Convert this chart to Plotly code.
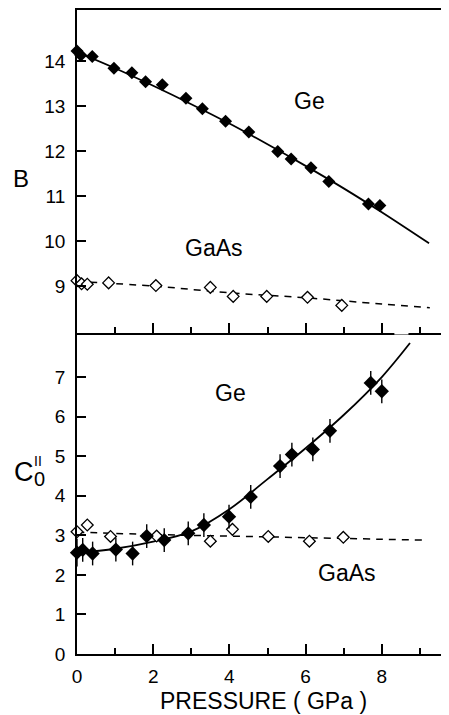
import plotly.graph_objects as go

# ---------------- data ----------------
# Top panel: B vs pressure
ge_B_x = [0.0, 0.1, 0.4, 0.97, 1.44, 1.8, 2.24, 2.86, 3.29, 3.9, 4.51, 5.27, 5.62, 6.14, 6.61, 7.65, 7.95]
ge_B_y = [14.22, 14.13, 14.1, 13.84, 13.74, 13.54, 13.47, 13.17, 12.94, 12.66, 12.42, 11.99, 11.82, 11.63, 11.32, 10.82, 10.79]
ge_B_fit_x = [0, 1, 2, 3, 4, 5, 6, 7, 8, 9.24]
ge_B_fit_y = [14.2, 13.84, 13.45, 13.04, 12.61, 12.15, 11.67, 11.17, 10.64, 9.95]

gaas_B_x = [0.0, 0.12, 0.27, 0.83, 2.07, 3.5, 4.1, 4.98, 6.05, 6.95]
gaas_B_y = [9.12, 9.05, 9.04, 9.07, 9.01, 8.97, 8.77, 8.77, 8.75, 8.57]
gaas_B_fit_x = [0, 2, 4, 6, 8, 9.26]
gaas_B_fit_y = [9.1, 9.0, 8.85, 8.74, 8.6, 8.52]

# Bottom panel: C0'' vs pressure
ge_C_x = [0.0, 0.15, 0.41, 1.02, 1.46, 1.83, 2.29, 2.92, 3.33, 3.99, 4.56, 5.33, 5.64, 6.19, 6.64, 7.71, 8.0]
ge_C_y = [2.56, 2.63, 2.54, 2.64, 2.54, 2.98, 2.88, 3.05, 3.26, 3.47, 3.97, 4.75, 5.04, 5.17, 5.64, 6.85, 6.64]
ge_C_err = [0.35, 0.3, 0.3, 0.3, 0.3, 0.3, 0.3, 0.3, 0.3, 0.3, 0.3, 0.3, 0.3, 0.3, 0.3, 0.3, 0.3]
ge_C_fit_x = [0, 1, 2, 3, 4, 5, 6, 7, 8, 8.74]
ge_C_fit_y = [2.56, 2.66, 2.84, 3.1, 3.66, 4.42, 5.2, 6.04, 7.0, 7.86]

gaas_C_x = [0.0, 0.27, 0.88, 2.09, 3.5, 4.08, 5.02, 6.1, 6.99]
gaas_C_y = [3.09, 3.26, 2.97, 2.98, 2.85, 3.15, 2.97, 2.85, 2.95]
gaas_C_fit_x = [0, 2, 4, 6, 8, 9.09]
gaas_C_fit_y = [3.08, 3.02, 2.98, 2.94, 2.9, 2.88]

x_ticks = [0, 2, 4, 6, 8]
B_ticks = [9, 10, 11, 12, 13, 14]
C_ticks = [0, 1, 2, 3, 4, 5, 6, 7]

# ---------------- style ----------------
FONT = "Liberation Sans"
K = "black"
X_RANGE = [0, 9.764]
B_RANGE = [7.956, 15.133]
C_RANGE = [0, 8.112]
SPLIT = 0.4984

fig = go.Figure()

# top panel (x2, y2)
fig.add_trace(go.Scatter(x=ge_B_fit_x, y=ge_B_fit_y, mode="lines", xaxis="x2", yaxis="y2",
                         line=dict(color=K, width=1.8, shape="spline", smoothing=1)))
fig.add_trace(go.Scatter(x=gaas_B_fit_x, y=gaas_B_fit_y, mode="lines", xaxis="x2", yaxis="y2",
                         line=dict(color=K, width=1.5, dash="7px,6px", shape="spline", smoothing=1)))
fig.add_trace(go.Scatter(x=ge_B_x, y=ge_B_y, mode="markers", xaxis="x2", yaxis="y2", cliponaxis=False,
                         marker=dict(symbol="diamond", size=10, color=K, line=dict(width=0))))
fig.add_trace(go.Scatter(x=gaas_B_x, y=gaas_B_y, mode="markers", xaxis="x2", yaxis="y2", cliponaxis=False,
                         marker=dict(symbol="diamond", size=9, color="white", line=dict(color=K, width=1.3))))

# bottom panel (x, y)
fig.add_trace(go.Scatter(x=ge_C_fit_x, y=ge_C_fit_y, mode="lines", xaxis="x", yaxis="y",
                         line=dict(color=K, width=1.8, shape="spline", smoothing=1)))
fig.add_trace(go.Scatter(x=gaas_C_fit_x, y=gaas_C_fit_y, mode="lines", xaxis="x", yaxis="y",
                         line=dict(color=K, width=1.5, dash="7px,6px", shape="spline", smoothing=1)))
fig.add_trace(go.Scatter(x=gaas_C_x, y=gaas_C_y, mode="markers", xaxis="x", yaxis="y", cliponaxis=False,
                         marker=dict(symbol="diamond", size=9, color="white", line=dict(color=K, width=1.3))))
fig.add_trace(go.Scatter(x=ge_C_x, y=ge_C_y, mode="markers", xaxis="x", yaxis="y", cliponaxis=False,
                         error_y=dict(type="data", array=ge_C_err, color=K, thickness=1.4, width=0),
                         marker=dict(symbol="diamond", size=11, color=K, line=dict(width=0))))

# dummy traces for right-side tick axes
fig.add_trace(go.Scatter(x=[None], y=[None], xaxis="x", yaxis="y3", showlegend=False))
fig.add_trace(go.Scatter(x=[None], y=[None], xaxis="x2", yaxis="y4", showlegend=False))

tickfont = dict(family=FONT, size=19, color=K)
xcommon = dict(range=X_RANGE, showgrid=False, zeroline=False, showline=True, linecolor=K, linewidth=1.8,
               ticks="inside", ticklen=10, tickwidth=1.5, tickcolor=K, tickvals=x_ticks,
               minor=dict(dtick=1, tick0=1, ticks="inside", ticklen=6, tickwidth=1.5, tickcolor=K, showgrid=False))
ycommon = dict(showgrid=False, zeroline=False, showline=True, linecolor=K, linewidth=1.8,
               ticks="inside", ticklen=9, tickwidth=1.5, tickcolor=K, tickfont=tickfont, ticklabelstandoff=6)

# the page body adds an 8 px offset; the figure is sized and margined to compensate
fig.update_layout(
    width=441, height=707,
    margin=dict(l=69, r=0, t=2, b=61),
    paper_bgcolor="white", plot_bgcolor="white",
    showlegend=False,
    font=dict(family=FONT, color=K),
    xaxis=dict(**xcommon, anchor="y", domain=[0, 1], tickfont=tickfont, ticklabelstandoff=4,
               ticktext=[str(v) for v in x_ticks]),
    xaxis2=dict(**xcommon, anchor="y2", domain=[0, 1], showticklabels=False, mirror=True),
    yaxis=dict(**ycommon, range=C_RANGE, domain=[0, SPLIT], anchor="x", tickvals=C_ticks),
    yaxis2=dict(**ycommon, range=B_RANGE, domain=[SPLIT, 1], anchor="x2", tickvals=B_ticks),
    yaxis3=dict(range=C_RANGE, overlaying="y", side="right", anchor="x", showgrid=False, zeroline=False,
                showline=False, ticks="inside", ticklen=5, tickwidth=1.5, tickcolor=K,
                tickvals=C_ticks, showticklabels=False),
    yaxis4=dict(range=B_RANGE, overlaying="y2", side="right", anchor="x2", showgrid=False, zeroline=False,
                showline=False, ticks="inside", ticklen=5, tickwidth=1.5, tickcolor=K,
                tickvals=B_ticks, showticklabels=False),
)

# small break in the shared axis line where the Ge curve ends (as in the original)
fig.add_shape(type="line", xref="x", yref="paper", x0=8.33, x1=8.7, y0=SPLIT, y1=SPLIT,
              line=dict(color="white", width=3), layer="above")

lab = dict(family=FONT, size=23, color=K)
ann = [
    dict(text="Ge", x=6.09, y=13.11, xref="x2", yref="y2", font=lab),
    dict(text="GaAs", x=3.6, y=9.84, xref="x2", yref="y2", font=lab),
    dict(text="Ge", x=4.02, y=6.6, xref="x", yref="y", font=lab),
    dict(text="GaAs", x=7.09, y=2.05, xref="x", yref="y", font=lab),
    dict(text="B", x=-0.1505, y=0.739, xref="paper", yref="paper", font=dict(family=FONT, size=24, color=K)),
    dict(text="C", x=-0.1425, y=0.282, xref="paper", yref="paper", font=dict(family=FONT, size=27, color=K)),
    dict(text="0", x=-0.102, y=0.271, xref="paper", yref="paper", font=dict(family=FONT, size=20, color=K)),
    dict(text="II", x=-0.1035, y=0.300, xref="paper", yref="paper", font=dict(family=FONT, size=14, color=K)),
    dict(text="PRESSURE ( GPa )", x=0.5, y=-0.073, xref="paper", yref="paper", font=lab),
]
for a in ann:
    a.update(showarrow=False, xanchor="center", yanchor="middle")
fig.update_layout(annotations=ann)

fig.write_html("out.html")
